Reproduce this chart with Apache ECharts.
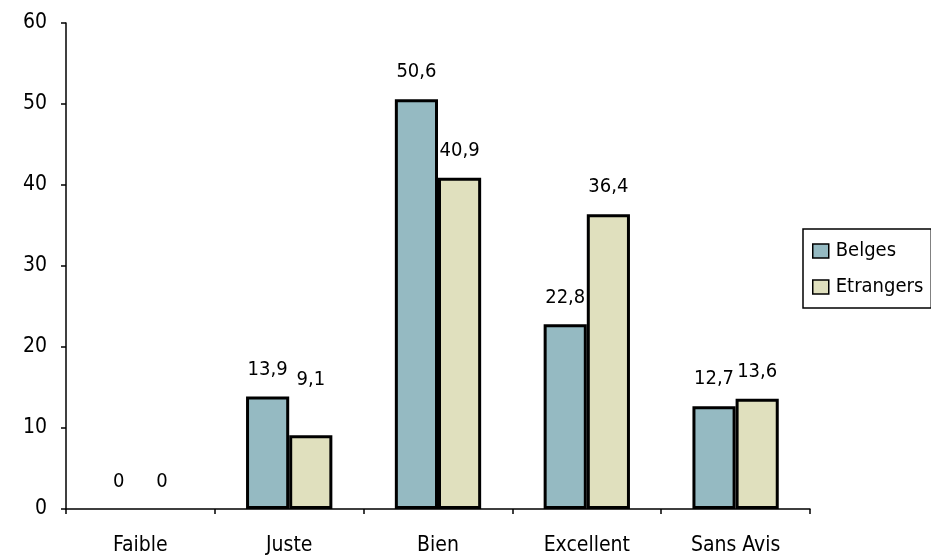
<!DOCTYPE html>
<html>
<head>
<meta charset="utf-8">
<script src="https://cdn.jsdelivr.net/npm/echarts@6/dist/echarts.min.js"></script>
<style>
  html, body { margin: 0; padding: 0; background: #fff; }
  #chart { width: 931px; height: 558px; }
</style>
</head>
<body>
<div id="chart"></div>
<script>
// Appreciation ratings, in percent, for Belgian and foreign respondents
const categories = ['Faible', 'Juste', 'Bien', 'Excellent', 'Sans Avis'];
const belges = [0, 13.9, 50.6, 22.8, 12.7];
const etrangers = [0, 9.1, 40.9, 36.4, 13.6];
const yTicks = [0, 10, 20, 30, 40, 50, 60];

const FONT = '"DejaVu Sans Condensed", "Liberation Sans Narrow", "Open Sans", sans-serif';
const FONT_SIZE = 21;
const fmt = v => String(v).replace('.', ',');

// Per-bar data items: empty bars get no outline, some labels sit higher
function items(values, extraDistance) {
  return values.map((v, i) => {
    const item = { value: v, label: { distance: 17 + (extraDistance[i] || 0) } };
    if (v === 0) item.itemStyle = { borderWidth: 0 };
    return item;
  });
}

const chart = echarts.init(document.getElementById('chart'), null, { renderer: 'canvas' });

const barLabel = {
  show: true,
  position: 'top',
  color: '#000',
  fontFamily: FONT,
  fontSize: 20,
  formatter: p => fmt(p.value)
};

chart.setOption({
  animation: false,
  textStyle: { fontFamily: FONT },
  grid: { left: 66, right: 121, top: 23, bottom: 49, containLabel: false },
  legend: {
    orient: 'vertical',
    left: 803,
    top: 229,
    padding: [12, 8, 11, 9],
    itemGap: 16,
    itemWidth: 16,
    itemHeight: 14,
    borderColor: '#000',
    borderWidth: 1.5,
    icon: 'rect',
    itemStyle: { borderColor: '#000', borderWidth: 1.5 },
    textStyle: { fontFamily: FONT, fontSize: 20, color: '#000', padding: [0, 0, 0, 2] },
    data: ['Belges', 'Etrangers']
  },
  xAxis: {
    type: 'category',
    data: categories,
    axisLine: { show: true, lineStyle: { color: '#000', width: 1.5 } },
    axisTick: { show: true, length: 5, inside: false, lineStyle: { color: '#000', width: 1.5 } },
    axisLabel: { color: '#000', fontSize: FONT_SIZE, fontFamily: FONT, margin: 26 }
  },
  yAxis: {
    type: 'value',
    min: yTicks[0],
    max: yTicks[yTicks.length - 1],
    interval: 10,
    splitLine: { show: false },
    axisLine: { show: true, lineStyle: { color: '#000', width: 1.5 } },
    axisTick: { show: true, length: 5, lineStyle: { color: '#000', width: 1.5 } },
    axisLabel: { color: '#000', fontSize: FONT_SIZE, fontFamily: FONT, margin: 19 }
  },
  series: [
    {
      name: 'Belges',
      type: 'bar',
      data: items(belges, []),
      barWidth: '29%',
      barGap: '0%',
      itemStyle: { color: '#95BAC2', borderColor: '#000', borderWidth: 3 },
      label: barLabel
    },
    {
      name: 'Etrangers',
      type: 'bar',
      data: items(etrangers, [0, 28, 0, 0, 0]),
      barWidth: '29%',
      barGap: '0%',
      itemStyle: { color: '#E0E0BE', borderColor: '#000', borderWidth: 3 },
      label: barLabel
    }
  ]
});
</script>
</body>
</html>
